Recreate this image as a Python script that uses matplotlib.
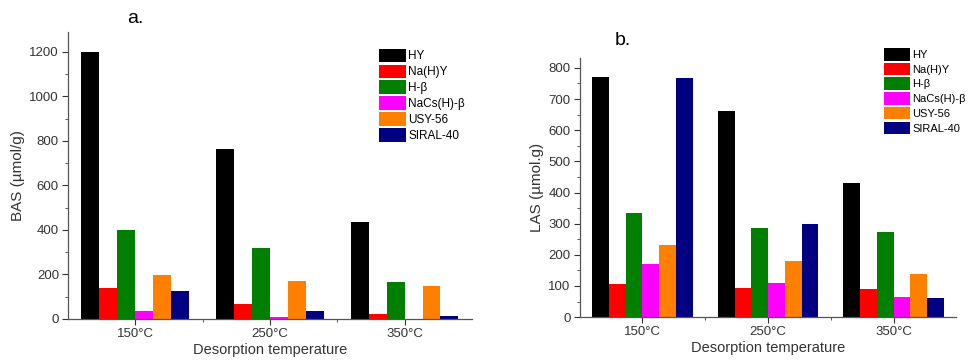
import numpy as np
import matplotlib
matplotlib.use('Agg')
import matplotlib.pyplot as plt
from matplotlib.ticker import MultipleLocator, FixedLocator

# Data
temps = ['150°C', '250°C', '350°C']
samples = ['HY', 'Na(H)Y', 'H-β', 'NaCs(H)-β', 'USY-56', 'SIRAL-40']
colors = ['#000000', '#ff0000', '#007f00', '#ff00ff', '#ff8000', '#000080']

bas_hy = [1200, 765, 437]
bas_nahy = [137, 68, 22]
bas_hbeta = [398, 317, 165]
bas_nacs = [35, 8, 0]
bas_usy = [198, 172, 147]
bas_siral = [125, 35, 15]

las_hy = [770, 661, 431]
las_nahy = [105, 92, 90]
las_hbeta = [335, 287, 273]
las_nacs = [170, 111, 66]
las_usy = [232, 180, 139]
las_siral = [767, 298, 61]

bas = [bas_hy, bas_nahy, bas_hbeta, bas_nacs, bas_usy, bas_siral]
las = [las_hy, las_nahy, las_hbeta, las_nacs, las_usy, las_siral]

plt.rcParams['font.family'] = ['Liberation Sans', 'DejaVu Sans']

fig = plt.figure(figsize=(9.71, 3.62), dpi=100)
ax1 = fig.add_axes([0.070, 0.119, 0.416, 0.793])
ax2 = fig.add_axes([0.597, 0.124, 0.388, 0.716])

x = np.arange(1, len(temps) + 1)
w = 0.8 / len(samples)


def draw(ax, data, ylabel, ymax, major, minor, legend_anchor, legend_fs):
    for i, (name, vals) in enumerate(zip(samples, data)):
        ax.bar(x - 0.4 + w * (i + 0.5), vals, width=w, color=colors[i],
               label=name, linewidth=0)
    ax.set_xlim(0.5, 3.5)
    ax.set_ylim(0, ymax)
    ax.set_xticks(x)
    ax.set_xticklabels(temps)
    ax.xaxis.set_minor_locator(FixedLocator([1.5, 2.5]))
    ax.yaxis.set_major_locator(MultipleLocator(major))
    ax.yaxis.set_minor_locator(MultipleLocator(minor))
    ax.tick_params(axis='both', which='major', direction='out', length=4,
                   width=0.8, labelsize=9.5, colors='#333333', pad=2.5)
    ax.tick_params(axis='both', which='minor', direction='out', length=2.5,
                   width=0.7, colors='#555555')
    for s in ['top', 'right']:
        ax.spines[s].set_visible(False)
    for s in ['left', 'bottom']:
        ax.spines[s].set_color('#555555')
        ax.spines[s].set_linewidth(0.9)
    ax.set_ylabel(ylabel, fontsize=11, color='#333333', labelpad=3)
    ax.set_xlabel('Desorption temperature', fontsize=10.5, color='#333333',
                  labelpad=2)
    ax.legend(loc='upper left', bbox_to_anchor=legend_anchor, frameon=False,
              fontsize=legend_fs, handlelength=2.3, handleheight=1.35,
              handletextpad=0.2, labelspacing=0.2, borderaxespad=0)


draw(ax1, bas, 'BAS (µmol/g)', 1290, 200, 100, (0.758, 0.958), 8.5)
draw(ax2, las, 'LAS (µmol.g)', 832, 100, 50, (0.797, 1.055), 8)

fig.text(0.139, 0.925, 'a.', fontsize=14, ha='center', va='bottom')
fig.text(0.641, 0.865, 'b.', fontsize=14, ha='center', va='bottom')

fig.savefig('out.png', dpi=100)
